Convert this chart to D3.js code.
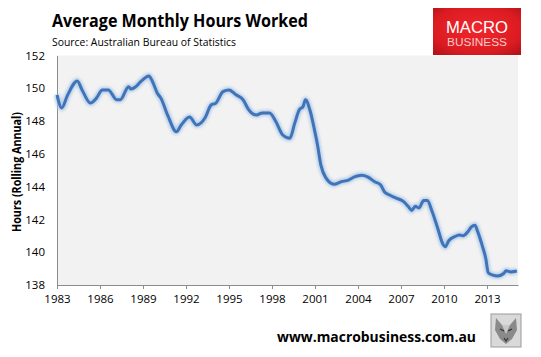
<!DOCTYPE html>
<html><head><meta charset="utf-8">
<script src="https://cdn.jsdelivr.net/npm/d3@7"></script>
<style>html,body{margin:0;padding:0;background:#fff;}svg{display:block;}</style>
</head><body>
<svg id="c" width="541" height="357"></svg>
<script>
const months = ["1983-01","1983-05","1983-10","1984-06","1984-10","1985-05","1985-10","1986-03","1986-08","1987-03","1987-06","1988-01","1988-03","1988-07","1988-11","1989-06","1989-09","1990-01","1990-04","1990-10","1991-05","1991-09","1992-04","1992-10","1993-05","1993-10","1994-02","1994-08","1995-01","1995-07","1996-01","1996-05","1996-12","1997-05","1997-11","1998-04","1998-10","1999-04","1999-08","1999-12","2000-03","2000-05","2000-09","2001-01","2001-03","2001-06","2001-10","2002-05","2002-11","2003-05","2003-10","2004-04","2004-09","2005-03","2005-08","2005-11","2006-03","2006-09","2007-03","2007-07","2007-10","2008-01","2008-04","2008-08","2008-11","2009-03","2009-08","2009-12","2010-02","2010-05","2010-10","2011-02","2011-05","2011-09","2011-12","2012-03","2012-05","2012-09","2012-12","2013-02","2013-06","2013-10","2014-03","2014-05","2014-09","2015-02"];
const hours = [149.6,148.8,149.6,150.45,149.9,149.1,149.4,149.9,149.9,149.3,149.3,150.1,149.95,150.1,150.4,150.75,150.4,149.7,149.4,148.3,147.35,147.76,148.25,147.76,148.2,148.98,149.1,149.8,149.9,149.6,149.28,148.75,148.37,148.5,148.5,148.0,147.15,146.95,147.86,148.7,148.88,149.3,148.6,147.3,146.6,145.3,144.55,144.15,144.3,144.4,144.6,144.7,144.6,144.3,144.1,143.7,143.5,143.3,143.1,142.8,142.55,142.8,142.7,143.15,143.15,142.5,141.4,140.5,140.33,140.7,140.95,141.05,141.0,141.25,141.55,141.65,141.3,140.4,139.6,138.75,138.6,138.55,138.7,138.87,138.8,138.85];
const yTicks = [138,140,142,144,146,148,150,152];
const xTickYears = [1983,1986,1989,1992,1995,1998,2001,2004,2007,2010,2013];

const parse = d3.timeParse("%Y-%m");
const data = months.map((m,i)=>({d:parse(m), v:hours[i]}));

const svg = d3.select("#c");
const L=57, R=518, T=55.5, B=285;
const x = d3.scaleTime().domain([parse("1983-01"), parse("2015-03")]).range([L,R]);
const y = d3.scaleLinear().domain([138,152]).range([B,T]);

const defs = svg.append("defs");
const f = defs.append("filter").attr("id","glow").attr("x","-5%").attr("y","-5%").attr("width","110%").attr("height","110%");
f.append("feGaussianBlur").attr("stdDeviation",1.6);
const lg = defs.append("radialGradient").attr("id","red").attr("cx","50%").attr("cy","45%").attr("r","70%");
lg.append("stop").attr("offset","0%").attr("stop-color","#f0262c");
lg.append("stop").attr("offset","70%").attr("stop-color","#dc1c22");
lg.append("stop").attr("offset","100%").attr("stop-color","#b5121a");

// title
svg.append("text").attr("x",52).attr("y",27).attr("font-family","'Open Sans', sans-serif").attr("font-weight","bold").attr("font-size",18).attr("fill","#000").attr("textLength",256).attr("lengthAdjust","spacingAndGlyphs").text("Average Monthly Hours Worked");
svg.append("text").attr("x",52).attr("y",46).attr("font-family","'Open Sans', sans-serif").attr("font-size",11.5).attr("fill","#000").attr("textLength",184).attr("lengthAdjust","spacingAndGlyphs").text("Source: Australian Bureau of Statistics");

// logo
svg.append("rect").attr("x",433).attr("y",8).attr("width",88).attr("height",47).attr("fill","url(#red)");
svg.append("text").attr("x",477).attr("y",33).attr("text-anchor","middle").attr("font-family","'Liberation Sans', Arial, sans-serif").attr("font-size",17).attr("fill","#fff").attr("textLength",62).attr("lengthAdjust","spacingAndGlyphs").text("MACRO");
svg.append("text").attr("x",477).attr("y",46).attr("text-anchor","middle").attr("font-family","'Liberation Sans', Arial, sans-serif").attr("font-size",10).attr("fill","#f6c9c9").attr("textLength",60).attr("lengthAdjust","spacingAndGlyphs").text("BUSINESS");

// plot background
svg.append("rect").attr("x",L).attr("y",T).attr("width",R-L).attr("height",B-T).attr("fill","#f2f2f2");

// axes
const yAxis = svg.append("g").attr("transform",`translate(${L},0)`)
  .call(d3.axisLeft(y).tickValues(yTicks).tickSize(0).tickPadding(12));
yAxis.select(".domain").attr("stroke","#8c8c8c").attr("stroke-width",1);
yAxis.selectAll("text").attr("font-family","'Open Sans', sans-serif").attr("font-size",11.5).attr("fill","#000");

const xAxis = svg.append("g").attr("transform",`translate(0,${B})`)
  .call(d3.axisBottom(x).tickValues(xTickYears.map(yr=>new Date(yr,0,1))).tickFormat(d3.timeFormat("%Y")).tickSizeInner(4).tickSizeOuter(0).tickPadding(6));
xAxis.select(".domain").attr("stroke","#8c8c8c").attr("stroke-width",1);
xAxis.selectAll(".tick line").attr("stroke","#8c8c8c");
xAxis.selectAll("text").attr("font-family","'Open Sans', sans-serif").attr("font-size",11.5).attr("fill","#000");

// y label
svg.append("text").attr("transform","translate(21,172) rotate(-90)").attr("text-anchor","middle").attr("font-family","'Open Sans', sans-serif").attr("font-weight","bold").attr("font-size",12).attr("fill","#000").attr("textLength",120).attr("lengthAdjust","spacingAndGlyphs").text("Hours (Rolling Annual)");

// line
const line = d3.line().x(d=>x(d.d)).y(d=>y(d.v)).curve(d3.curveMonotoneX);
svg.append("path").datum(data).attr("d",line).attr("fill","none").attr("stroke","#b3cbe8").attr("stroke-width",6).attr("filter","url(#glow)");
svg.append("path").datum(data).attr("d",line).attr("fill","none").attr("stroke","#3f74b8").attr("stroke-width",3).attr("stroke-linejoin","round");

// footer
svg.append("text").attr("x",277).attr("y",342).attr("font-family","'Open Sans', sans-serif").attr("font-weight","bold").attr("font-size",15).attr("fill","#000").attr("textLength",199).attr("lengthAdjust","spacingAndGlyphs").text("www.macrobusiness.com.au");

// wolf badge
const w = svg.append("g").attr("transform","translate(491,314)");
w.append("rect").attr("x",0).attr("y",0).attr("width",30).attr("height",33).attr("fill","#d9d9d9").attr("stroke","#9a9a9a").attr("stroke-width",1);
w.append("path").attr("d","M5,4 L11,11 L19,11 L25,4 L26,16 L21,25 L15,30 L9,25 L4,16 Z").attr("fill","#8a8a8a");
w.append("path").attr("d","M9,15 L13,17 M21,15 L17,17 M13,24 L15,27 L17,24").attr("stroke","#333").attr("stroke-width",1.2).attr("fill","none");
w.append("path").attr("d","M11,11 L15,20 L19,11").attr("fill","#c8c8c8");
</script>
</body></html>
